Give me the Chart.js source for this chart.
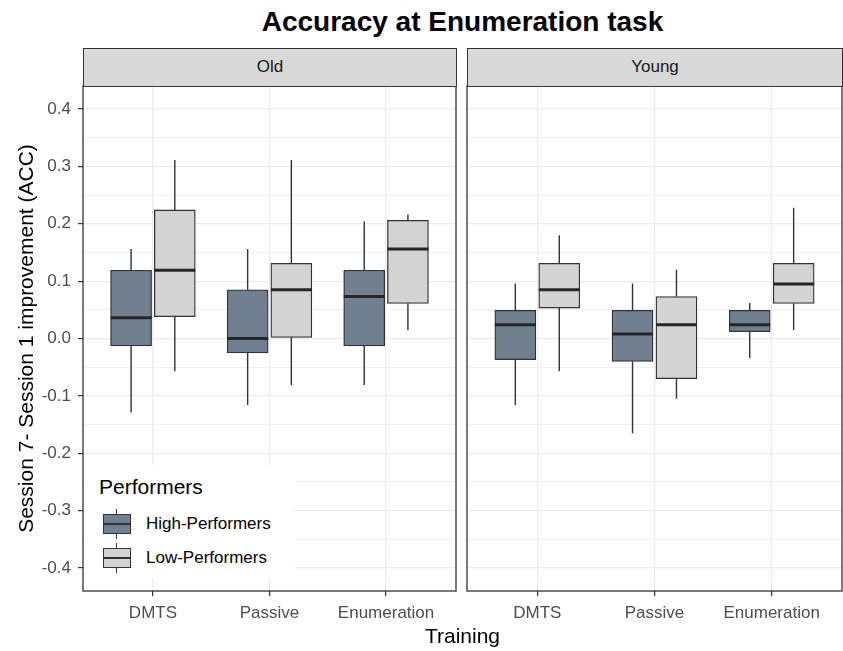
<!DOCTYPE html>
<html>
<head>
<meta charset="utf-8">
<title>Accuracy at Enumeration task</title>
<script src="https://cdn.jsdelivr.net/npm/chart.js@4/dist/chart.umd.min.js"></script>
<style>
  html, body { margin: 0; padding: 0; background: #ffffff; }
  #wrap { position: relative; width: 843px; height: 651px; overflow: hidden;
          font-family: "Liberation Sans", Arial, sans-serif; }
  canvas { position: absolute; }
  .title { position: absolute; left: 83px; width: 759px; top: 7px; line-height: 30px;
           text-align: center; font-weight: bold; font-size: 28px; color: #000; }
  .strip { position: absolute; top: 48px; height: 39px; box-sizing: border-box;
           background: #d9d9d9; border: 1.3px solid #333; text-align: center;
           line-height: 36px; font-size: 17px; color: #1a1a1a; }
  .xtitle { position: absolute; left: 83px; width: 759px; top: 623px; line-height: 26px;
            text-align: center; font-size: 21px; color: #000; }
  #legend { position: absolute; left: 87px; top: 465px; width: 208px; height: 113px; background: #fff; }
  #legend .ltitle { position: absolute; left: 12px; top: 9px; font-size: 21px; line-height: 26px; color: #000; }
  .lrow { position: absolute; left: 16px; height: 30px; width: 190px; }
  .key { position: absolute; left: 0; top: 0; width: 28px; height: 30px; }
  .key .wh { position: absolute; left: 13px; top: 0; width: 1.4px; height: 30px; background: #333; }
  .key .bx { position: absolute; left: 0; top: 5px; width: 28px; height: 20px; box-sizing: border-box;
             border: 1.3px solid #333; }
  .key .md { position: absolute; left: 0; top: 14px; width: 28px; height: 2px; background: #333; }
  .lrow .lab { position: absolute; left: 43px; top: 0; line-height: 30px; font-size: 17px; color: #000; white-space: nowrap; }
</style>
</head>
<body>
<div id="wrap">
  <div class="title">Accuracy at Enumeration task</div>
  <canvas id="old" width="460" height="603" style="left:0px;top:48px;"></canvas>
  <canvas id="young" width="380" height="603" style="left:463px;top:48px;"></canvas>
  <div class="strip" id="stripOld" style="left:83px;width:374px;"></div>
  <div class="strip" id="stripYoung" style="left:467px;width:376px;"></div>
  <div class="xtitle">Training</div>
  <div id="legend"></div>
</div>
<script>
// Categories and facets
const trainings = ['DMTS', 'Passive', 'Enumeration'];
const ageGroups = ['Old', 'Young'];
const performers = ['High-Performers', 'Low-Performers'];

// Box statistics per training: [lower whisker, Q1, median, Q3, upper whisker]
const oldHigh = [
  [-0.129, -0.013, 0.036, 0.119, 0.156],
  [-0.116, -0.025, 0.000, 0.085, 0.156],
  [-0.081, -0.013, 0.073, 0.119, 0.204]
];
const oldLow = [
  [-0.057, 0.038, 0.119, 0.224, 0.311],
  [-0.081, 0.002, 0.085, 0.131, 0.311],
  [0.015, 0.061, 0.156, 0.206, 0.216]
];
const youngHigh = [
  [-0.116, -0.037, 0.024, 0.049, 0.096],
  [-0.165, -0.040, 0.008, 0.049, 0.096],
  [-0.034, 0.012, 0.024, 0.049, 0.062]
];
const youngLow = [
  [-0.057, 0.053, 0.085, 0.131, 0.180],
  [-0.105, -0.070, 0.024, 0.073, 0.120],
  [0.015, 0.061, 0.095, 0.131, 0.228]
];

// Axis ticks (major labelled, minor unlabelled)
const yTickValues = [-0.4, -0.35, -0.3, -0.25, -0.2, -0.15, -0.1, -0.05, 0, 0.05, 0.1, 0.15, 0.2, 0.25, 0.3, 0.35, 0.4];
const yLabelledTicks = [-0.4, -0.3, -0.2, -0.1, 0, 0.1, 0.2, 0.3, 0.4];

const fillColors = ['#708090', '#d3d3d3'];
const lineColor = '#333333';
const gridColor = '#ebebeb';
const tickTextColor = '#4d4d4d';
const dodge = 0.1875;

document.getElementById('stripOld').textContent = ageGroups[0];
document.getElementById('stripYoung').textContent = ageGroups[1];

// Legend keys
(function buildLegend() {
  const lg = document.getElementById('legend');
  const t = document.createElement('div');
  t.className = 'ltitle';
  t.textContent = 'Performers';
  lg.appendChild(t);
  performers.forEach((name, i) => {
    const row = document.createElement('div');
    row.className = 'lrow';
    row.style.top = (44 + i * 34) + 'px';
    row.innerHTML = '<div class="key"><div class="wh"></div><div class="bx" style="background:' +
      fillColors[i] + '"></div><div class="md"></div></div><div class="lab"></div>';
    row.querySelector('.lab').textContent = name;
    lg.appendChild(row);
  });
})();

const isMajor = v => yLabelledTicks.some(t => Math.abs(t - v) < 1e-9);

// Whiskers, medians and panel border
const boxPlugin = {
  id: 'boxWhiskers',
  beforeDatasetsDraw(chart) {
    const { ctx, scales: { y } } = chart;
    ctx.save();
    ctx.strokeStyle = lineColor;
    ctx.lineWidth = 1.4;
    chart.data.datasets.forEach((ds, di) => {
      chart.getDatasetMeta(di).data.forEach((bar, i) => {
        const s = ds.stats[i];
        ctx.beginPath();
        ctx.moveTo(bar.x, y.getPixelForValue(s[0]));
        ctx.lineTo(bar.x, y.getPixelForValue(s[1]));
        ctx.moveTo(bar.x, y.getPixelForValue(s[3]));
        ctx.lineTo(bar.x, y.getPixelForValue(s[4]));
        ctx.stroke();
      });
    });
    ctx.restore();
  },
  afterDatasetsDraw(chart) {
    const { ctx, scales: { y } } = chart;
    ctx.save();
    ctx.strokeStyle = '#262626';
    ctx.lineWidth = 3;
    chart.data.datasets.forEach((ds, di) => {
      chart.getDatasetMeta(di).data.forEach((bar, i) => {
        const py = y.getPixelForValue(ds.stats[i][2]);
        ctx.beginPath();
        ctx.moveTo(bar.x - bar.width / 2, py);
        ctx.lineTo(bar.x + bar.width / 2, py);
        ctx.stroke();
      });
    });
    ctx.restore();
  },
  afterDraw(chart) {
    const { ctx, chartArea: a } = chart;
    ctx.save();
    ctx.strokeStyle = lineColor;
    ctx.lineWidth = 1.3;
    ctx.strokeRect(a.left, a.top, a.right - a.left, a.bottom - a.top);
    ctx.restore();
  }
};

function makeDatasets(high, low) {
  return [high, low].map((series, k) => ({
    label: performers[k],
    stats: series,
    data: series.map((b, i) => ({ x: i + 1 + (k === 0 ? -dodge : dodge), y: [b[1], b[3]] })),
    backgroundColor: fillColors[k],
    borderColor: lineColor,
    borderWidth: 1.3,
    borderSkipped: false,
    grouped: false,
    barThickness: 41
  }));
}

function makeChart(id, high, low, showY) {
  return new Chart(document.getElementById(id), {
    type: 'bar',
    data: { datasets: makeDatasets(high, low) },
    plugins: [boxPlugin],
    options: {
      responsive: false,
      animation: false,
      events: [],
      layout: { padding: showY ? { top: 38, right: 4, left: 0, bottom: 0 } : { top: 38, right: 1, left: 4, bottom: 0 } },
      plugins: { legend: { display: false }, tooltip: { enabled: false } },
      scales: {
        x: {
          type: 'linear',
          offset: false,
          min: 0.4,
          max: 3.6,
          afterBuildTicks: s => { s.ticks = trainings.map((_, i) => ({ value: i + 1 })); },
          afterFit: s => { s.height = 60; },
          ticks: {
            callback: v => trainings[Math.round(v) - 1],
            color: tickTextColor,
            font: { family: 'Liberation Sans', size: 17 },
            padding: 7,
            maxRotation: 0,
            autoSkip: false
          },
          grid: { offset: false, color: gridColor, lineWidth: 1.2, tickColor: lineColor, tickLength: 5, drawTicks: true },
          border: { display: false }
        },
        y: {
          type: 'linear',
          min: -0.44,
          max: 0.44,
          afterBuildTicks: s => { s.ticks = yTickValues.map(v => ({ value: v })); },
          afterFit: s => { s.width = showY ? 83 : 0; },
          ticks: {
            display: showY,
            callback: v => isMajor(v) ? v.toFixed(1) : '',
            color: tickTextColor,
            font: { family: 'Liberation Sans', size: 17 },
            padding: 7,
            autoSkip: false
          },
          grid: {
            color: gridColor,
            lineWidth: c => isMajor(c.tick.value) ? 1.2 : 0.8,
            tickColor: c => isMajor(c.tick.value) ? lineColor : 'rgba(0,0,0,0)',
            tickLength: 5,
            drawTicks: showY
          },
          border: { display: false },
          title: {
            display: showY,
            text: 'Session 7- Session 1 improvement (ACC)',
            color: '#000',
            font: { family: 'Liberation Sans', size: 21 },
            padding: { top: 15, bottom: 0 }
          }
        }
      }
    }
  });
}

makeChart('old', oldHigh, oldLow, true);
makeChart('young', youngHigh, youngLow, false);
</script>
</body>
</html>
